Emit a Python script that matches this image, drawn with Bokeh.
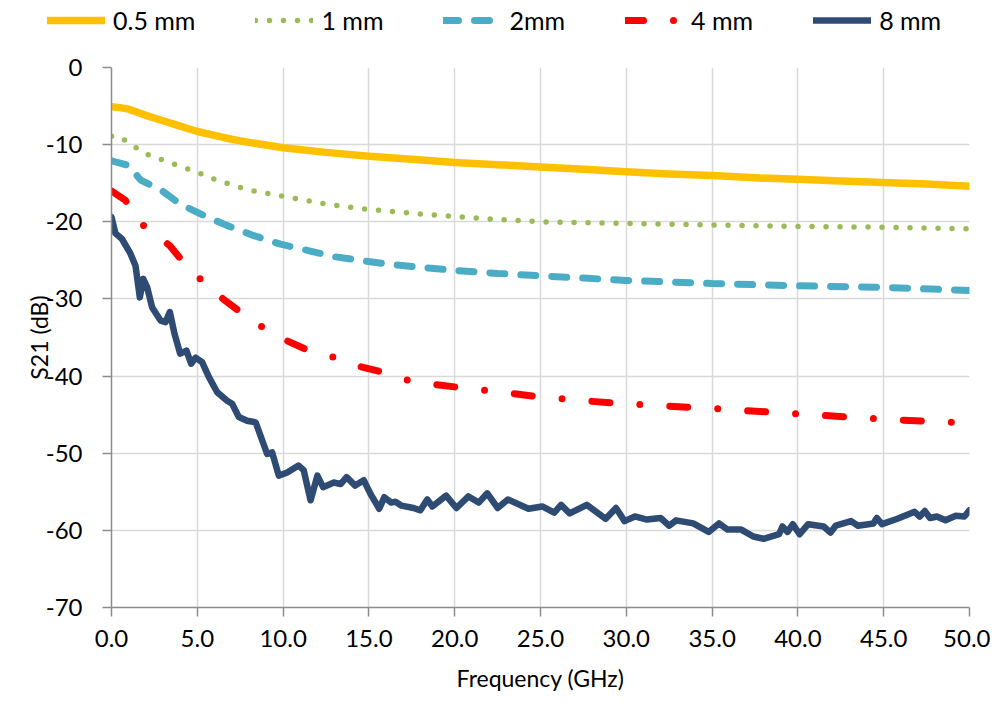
from bokeh.plotting import figure
from bokeh.layouts import column, row
from bokeh.models import Legend, LegendItem, FixedTicker, PrintfTickFormatter, Range1d
from bokeh.embed import file_html
from bokeh.resources import INLINE

# ---- data ----
x_05 = [0.0, 0.5, 1.0, 2.0, 3.0, 4.0, 5.0, 6.0, 7.0, 8.0, 10.0, 12.5, 15.0, 17.5, 20.0, 22.5, 25.0, 27.5, 30.0, 32.5, 35.0, 37.5, 40.0, 42.5, 45.0, 47.5, 50.0]
y_05 = [-5.1, -5.2, -5.4, -6.2, -6.9, -7.6, -8.3, -8.8, -9.3, -9.7, -10.4, -11.0, -11.5, -11.9, -12.3, -12.6, -12.9, -13.2, -13.5, -13.8, -14.0, -14.3, -14.5, -14.7, -14.9, -15.1, -15.4]

x_1 = [0.0, 0.5, 1.0, 2.0, 3.0, 4.0, 5.0, 6.0, 7.0, 8.0, 10.0, 12.5, 15.0, 17.5, 20.0, 22.5, 25.0, 27.5, 30.0, 35.0, 40.0, 45.0, 50.0]
y_1 = [-8.9, -9.0, -9.8, -11.2, -12.0, -12.8, -13.6, -14.5, -15.2, -15.9, -16.7, -17.7, -18.4, -18.9, -19.3, -19.7, -20.0, -20.1, -20.2, -20.4, -20.6, -20.7, -20.9]

x_2 = [0.0, 0.5, 1.0, 1.7, 2.9, 4.0, 5.4, 6.75, 8.3, 9.85, 11.4, 12.9, 14.5, 16.1, 18.0, 20.0, 22.5, 25.0, 27.5, 30.0, 35.0, 40.0, 45.0, 50.0]
y_2 = [-12.1, -12.4, -12.7, -14.6, -15.9, -17.7, -19.2, -20.5, -21.8, -22.9, -23.7, -24.5, -25.0, -25.5, -25.9, -26.3, -26.7, -27.0, -27.3, -27.6, -28.0, -28.3, -28.5, -28.9]

x_4 = [0.0, 0.4, 0.8, 1.7, 2.5, 3.4, 4.4, 5.6, 6.5, 7.75, 9.1, 10.1, 11.6, 13.2, 14.2, 15.8, 17.2, 18.5, 20.0, 22.0, 25.0, 27.5, 30.0, 35.0, 40.0, 45.0, 49.0]
y_4 = [-16.0, -16.6, -17.2, -20.2, -21.6, -23.1, -25.8, -28.3, -30.0, -32.1, -34.1, -35.3, -36.8, -37.7, -38.6, -39.5, -40.5, -41.0, -41.4, -41.9, -42.7, -43.2, -43.6, -44.2, -44.9, -45.6, -46.0]

x_8 = [0.0, 0.23, 0.6, 1.1, 1.4, 1.65, 1.85, 2.08, 2.37, 2.86, 3.15, 3.4, 3.67, 4.0, 4.37, 4.64, 4.9, 5.28, 5.67, 6.16,
       6.74, 7.03, 7.42, 7.9, 8.4, 9.07, 9.36, 9.75, 10.24, 10.9, 11.2, 11.6, 12.0, 12.33, 12.96, 13.35, 13.7, 14.2, 14.7, 15.1,
       15.6, 15.9, 16.3, 16.55, 16.9, 17.6, 18.0, 18.4, 18.7, 19.5, 20.1, 20.8, 21.4, 21.9, 22.5, 23.1, 24.3, 25.1, 25.8, 26.2,
       26.7, 27.7, 28.8, 29.4, 29.9, 30.5, 31.2, 32.0, 32.5, 32.9, 33.9, 34.8, 35.4, 35.9, 36.7, 37.4, 38.0, 38.9, 39.1, 39.4,
       39.7, 40.1, 40.6, 41.5, 41.9, 42.2, 43.1, 43.5, 44.4, 44.6, 44.9, 45.8, 46.8, 47.1, 47.4, 47.7, 48.1, 48.6, 49.2, 49.7, 50.0]
y_8 = [-19.4, -21.5, -22.2, -24.1, -25.7, -29.8, -27.4, -28.5, -31.1, -32.8, -33.0, -31.7, -34.5, -37.1, -36.7, -38.4, -37.6, -38.2, -40.1, -42.1,
       -43.2, -43.6, -45.3, -45.8, -46.0, -50.1, -49.9, -52.9, -52.5, -51.6, -52.2, -56.1, -52.9, -54.4, -53.8, -54.0, -53.1, -54.2, -53.5, -55.3,
       -57.2, -55.7, -56.4, -56.3, -56.8, -57.1, -57.4, -56.0, -56.9, -55.5, -57.1, -55.6, -56.4, -55.2, -57.1, -56.0, -57.2, -56.9, -57.7, -56.7,
       -57.8, -56.7, -58.5, -57.1, -58.8, -58.2, -58.6, -58.4, -59.4, -58.7, -59.1, -60.2, -59.1, -59.9, -59.9, -60.8, -61.1, -60.5, -59.5, -60.2,
       -59.2, -60.5, -59.2, -59.5, -60.3, -59.4, -58.8, -59.4, -59.1, -58.4, -59.2, -58.5, -57.6, -58.2, -57.5, -58.4, -58.2, -58.7, -58.1, -58.2, -57.4]

labels = ["0.5 mm", "1 mm", "2mm", "4 mm", "8 mm"]
x_ticks = [0, 5, 10, 15, 20, 25, 30, 35, 40, 45, 50]
y_ticks = [-70, -60, -50, -40, -30, -20, -10, 0]

FONT = "Lato"
styles = [
    dict(line_color="#FFC000", line_width=7.5, line_cap="round", line_join="round"),
    dict(line_color="#9BBB59", line_width=5.5, line_dash="0 14", line_cap="round"),
    dict(line_color="#4BACC6", line_width=7, line_dash="15 16", line_cap="round"),
    dict(line_color="#FF0000", line_width=7, line_dash="18 30 0 30", line_cap="round"),
    dict(line_color="#2E4B73", line_width=6.5, line_cap="round", line_join="round"),
]
series = [(x_05, y_05), (x_1, y_1), (x_2, y_2), (x_4, y_4), (x_8, y_8)]

# ---- main plot ----
p = figure(width=990, height=650, output_backend="svg", toolbar_location=None,
           x_range=Range1d(0, 50), y_range=Range1d(-70, 0))
p.min_border_left = 111
p.min_border_right = 21
p.min_border_top = 22
p.min_border_bottom = 88
p.outline_line_color = None

for (xs, ys), st in zip(series, styles):
    p.line(xs, ys, **st)

for ax in (p.xaxis[0], p.yaxis[0]):
    ax.axis_line_color = "#8C8C8C"
    ax.axis_line_width = 1.5
    ax.major_tick_line_color = "#8C8C8C"
    ax.major_tick_line_width = 1.5
    ax.major_tick_out = 9
    ax.major_tick_in = 0
    ax.minor_tick_line_color = None
    ax.major_label_text_font = FONT
    ax.major_label_text_font_size = "24px"
    ax.major_label_text_color = "#000000"
    ax.axis_label_text_font = FONT
    ax.axis_label_text_font_size = "23px"
    ax.axis_label_text_font_style = "normal"
    ax.axis_label_text_color = "#000000"

p.xaxis.ticker = FixedTicker(ticks=x_ticks)
p.yaxis.ticker = FixedTicker(ticks=y_ticks)
p.xaxis.formatter = PrintfTickFormatter(format="%.1f")
p.yaxis.formatter = PrintfTickFormatter(format="%d")
p.xaxis.axis_label = "Frequency (GHz)"
p.yaxis.axis_label = "S21 (dB)"
p.xaxis.major_label_standoff = 13
p.yaxis.major_label_standoff = 20
p.xaxis.axis_label_standoff = 14
p.yaxis.axis_label_standoff = -10

p.xgrid.ticker = FixedTicker(ticks=x_ticks)
p.ygrid.ticker = FixedTicker(ticks=y_ticks)
p.xgrid.grid_line_color = "#D9D9D9"
p.ygrid.grid_line_color = "#D9D9D9"
p.xgrid.grid_line_width = 1.5
p.ygrid.grid_line_width = 1.5

# ---- legend strip: same series drawn out of view, only their legend glyphs show ----
lf = figure(width=990, height=45, output_backend="svg", toolbar_location=None,
            x_axis_type=None, y_axis_type=None, x_range=Range1d(0, 50), y_range=Range1d(100, 101))
lf.min_border = 0
lf.outline_line_color = None
lf.xgrid.visible = False
lf.ygrid.visible = False
leg_r = [lf.line(xs, ys, **st) for (xs, ys), st in zip(series, styles)]

legend = Legend(items=[LegendItem(label=labels[i], renderers=[r]) for i, r in enumerate(leg_r)],
                orientation="horizontal", location=(47, 10))
legend.border_line_color = None
legend.background_fill_alpha = 0
legend.label_text_font = FONT
legend.label_text_font_size = "25px"
legend.label_text_color = "#000000"
legend.glyph_width = 58
legend.glyph_height = 24
legend.label_standoff = 8
legend.spacing = 60
legend.padding = 0
legend.margin = 0
lf.add_layout(legend, "center")

layout = column(row(lf), p)
open("out.html", "w").write(file_html(layout, INLINE))
